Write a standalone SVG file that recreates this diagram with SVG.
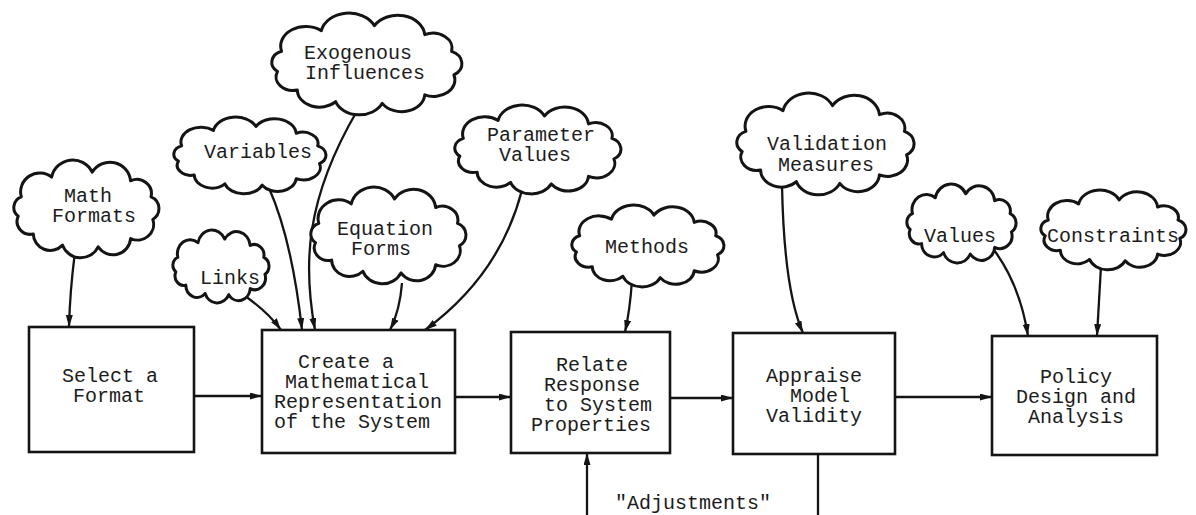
<svg xmlns="http://www.w3.org/2000/svg" xmlns:xlink="http://www.w3.org/1999/xlink" width="1196" height="515" viewBox="0 0 1196 515">
  <style>
    .cloud { fill: #ffffff; stroke: #141414; stroke-width: 3; stroke-linejoin: round; }
    .box { fill: #ffffff; stroke: #141414; stroke-width: 2.6; }
    .lbl { font-family: "Liberation Mono", "DejaVu Sans Mono", monospace; font-size: 20px; fill: #1c1c1c; text-anchor: middle; }
    .wire { fill: none; stroke: #141414; stroke-width: 2.3; }
    .arrow { marker-end: url(#head); }
  </style>
  <defs>
    <!-- scalloped cloud outline, drawn in a 189 x 130 box -->
    <path id="cloudShape" class="cloud" vector-effect="non-scaling-stroke"
      d="M9.5,48.8 A25,25 0 0 1 49.1,22.6 A28,28 0 0 1 101.9,16.1 A27,27 0 0 1 152,27.6 A19,19 0 0 1 178.7,48.8 A17,17 0 0 1 181,78.8 A21,21 0 0 1 152,104.2 A23,23 0 0 1 109.7,115.1 A25,25 0 0 1 63.3,112.9 A22,22 0 0 1 25.2,98 A17,17 0 0 1 5.5,74.6 A15,15 0 0 1 9.5,48.8 Z"/>
    <marker id="head" markerUnits="userSpaceOnUse" markerWidth="14" markerHeight="8" refX="12" refY="3.5" orient="auto">
      <path d="M0,0 L12,3.5 L0,7 Z" fill="#141414"/>
    </marker>
  </defs>

  <rect width="1196" height="515" fill="#ffffff"/>

  <!-- connectors -->
  <g id="connectors">
    <path class="wire arrow" d="M75,252 Q70,290 69,327"/>
    <path class="wire arrow" d="M245,296 Q268,312 281,330"/>
    <path class="wire arrow" d="M269,188 Q292,240 302,330"/>
    <path class="wire arrow" d="M357,111 C305,200 303,265 315,330"/>
    <path class="wire arrow" d="M402,283 Q400,310 390,330"/>
    <path class="wire arrow" d="M522,190 Q500,275 425,330"/>
    <path class="wire arrow" d="M632,280 Q630,310 625,332"/>
    <path class="wire arrow" d="M782,185 Q784,290 803,333"/>
    <path class="wire arrow" d="M994,250 Q1020,285 1028,336"/>
    <path class="wire arrow" d="M1101,266 Q1099,300 1097,336"/>
    <path class="wire arrow" d="M194,396 L262,396"/>
    <path class="wire arrow" d="M455,397 L511,397"/>
    <path class="wire arrow" d="M670,398 L733,398"/>
    <path class="wire arrow" d="M895,397 L992,397"/>
    <path class="wire" d="M818,454 L818,515"/>
    <path class="wire arrow" d="M587,515 L587,453"/>
    <text class="lbl" x="693" y="509">"Adjustments"</text>
  </g>

  <!-- input clouds -->
  <g id="cloud-math-formats">
    <use xlink:href="#cloudShape" transform="translate(14,160) scale(0.767,0.754)"/>
    <text class="lbl" x="88" y="202">Math</text>
    <text class="lbl" x="94" y="222">Formats</text>
  </g>
  <g id="cloud-links">
    <use xlink:href="#cloudShape" transform="translate(173,230) scale(0.508,0.562)"/>
    <text class="lbl" x="230" y="284">Links</text>
  </g>
  <g id="cloud-variables">
    <use xlink:href="#cloudShape" transform="translate(174,117) scale(0.804,0.592)"/>
    <text class="lbl" x="258" y="158">Variables</text>
  </g>
  <g id="cloud-exogenous">
    <use xlink:href="#cloudShape" transform="translate(272,13) scale(1.005,0.785)"/>
    <text class="lbl" x="358" y="59">Exogenous</text>
    <text class="lbl" x="365" y="79">Influences</text>
  </g>
  <g id="cloud-equation-forms">
    <use xlink:href="#cloudShape" transform="translate(311,187) scale(0.82,0.746)"/>
    <text class="lbl" x="385" y="235">Equation</text>
    <text class="lbl" x="381" y="255">Forms</text>
  </g>
  <g id="cloud-parameter-values">
    <use xlink:href="#cloudShape" transform="translate(455,105) scale(0.878,0.685)"/>
    <text class="lbl" x="541" y="141">Parameter</text>
    <text class="lbl" x="535" y="161">Values</text>
  </g>
  <g id="cloud-methods">
    <use xlink:href="#cloudShape" transform="translate(572,205) scale(0.804,0.631)"/>
    <text class="lbl" x="647" y="253">Methods</text>
  </g>
  <g id="cloud-validation-measures">
    <use xlink:href="#cloudShape" transform="translate(737,93) scale(0.937,0.785)"/>
    <text class="lbl" x="827" y="150">Validation</text>
    <text class="lbl" x="826" y="171">Measures</text>
  </g>
  <g id="cloud-values">
    <use xlink:href="#cloudShape" transform="translate(907,184) scale(0.577,0.608)"/>
    <text class="lbl" x="960" y="242">Values</text>
  </g>
  <g id="cloud-constraints">
    <use xlink:href="#cloudShape" transform="translate(1041,190) scale(0.767,0.615)"/>
    <text class="lbl" x="1113" y="242">Constraints</text>
  </g>

  <!-- process steps -->
  <g id="step-select-format">
    <rect class="box" x="29" y="327" width="165" height="125"/>
    <text class="lbl" x="110" y="382">Select a</text>
    <text class="lbl" x="109" y="402">Format</text>
  </g>
  <g id="step-create-representation">
    <rect class="box" x="262" y="330" width="193" height="123"/>
    <text class="lbl" x="346" y="368">Create a</text>
    <text class="lbl" x="357" y="388">Mathematical</text>
    <text class="lbl" x="358" y="408">Representation</text>
    <text class="lbl" x="352" y="428">of the System</text>
  </g>
  <g id="step-relate-response">
    <rect class="box" x="511" y="332" width="159" height="121"/>
    <text class="lbl" x="592" y="371">Relate</text>
    <text class="lbl" x="592" y="391">Response</text>
    <text class="lbl" x="598" y="411">to System</text>
    <text class="lbl" x="591" y="431">Properties</text>
  </g>
  <g id="step-appraise-validity">
    <rect class="box" x="733" y="333" width="162" height="121"/>
    <text class="lbl" x="814" y="382">Appraise</text>
    <text class="lbl" x="820" y="402">Model</text>
    <text class="lbl" x="814" y="422">Validity</text>
  </g>
  <g id="step-policy-design">
    <rect class="box" x="992" y="336" width="165" height="119"/>
    <text class="lbl" x="1076" y="383">Policy</text>
    <text class="lbl" x="1076" y="403">Design and</text>
    <text class="lbl" x="1076" y="423">Analysis</text>
  </g>
</svg>
